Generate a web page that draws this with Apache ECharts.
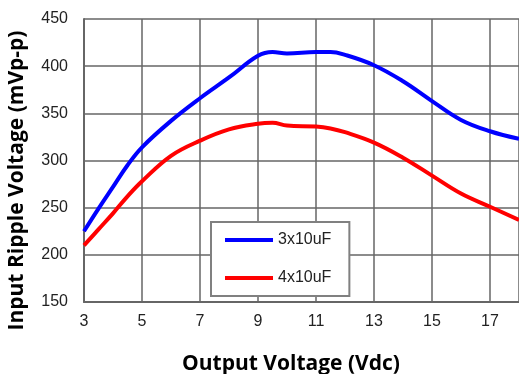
<!DOCTYPE html>
<html>
<head>
<meta charset="utf-8">
<script src="https://cdn.jsdelivr.net/npm/echarts@6/dist/echarts.min.js"></script>
<style>
html,body{margin:0;padding:0;background:#fff;}
#chart{width:519px;height:374px;}
</style>
</head>
<body>
<div id="chart"></div>
<script>
var outputVoltage = [3, 3.5, 4, 4.5, 5, 6, 7, 8, 9, 9.5, 10, 11, 11.5, 12, 13, 14, 15, 16, 17, 18];
var ripple3x10uF = [225, 249, 272, 295, 314, 342, 366, 388, 411, 415, 413.5, 415, 415, 412, 401, 384, 363, 343, 331, 323];
var ripple4x10uF = [210, 227, 244, 262, 278, 305, 321, 333, 339, 340, 337, 336, 334, 330, 319, 303, 284, 265, 251, 237];
var seriesNames = ['3x10uF', '4x10uF'];
var xTitle = 'Output Voltage (Vdc)';
var yTitle = 'Input Ripple Voltage (mVp-p)';

function pairs(xs, ys) { return xs.map(function (x, i) { return [x, ys[i]]; }); }

var chart = echarts.init(document.getElementById('chart'), null, {renderer: 'canvas'});
chart.setOption({
  animation: false,
  backgroundColor: '#fff',
  grid: {left: 84, top: 19, right: 0, bottom: 72, containLabel: false, outerBoundsMode: 'none'},
  legend: {
    orient: 'vertical', left: 211, top: 222,
    data: seriesNames,
    icon: 'rect',
    itemWidth: 48, itemHeight: 4, itemGap: 22,
    padding: [10, 18, 10, 14],
    backgroundColor: '#fff', borderColor: '#808080', borderWidth: 2,
    textStyle: {fontFamily: 'Liberation Sans', fontSize: 16, color: '#222'}
  },
  xAxis: {
    type: 'value', min: 3, max: 18, interval: 2,
    name: xTitle, nameLocation: 'middle', nameGap: 52,
    nameTextStyle: {fontFamily: 'Open Sans', fontWeight: 'bold', fontSize: 21, color: '#000', padding: [0, 21, 0, 0]},
    axisLine: {show: true, lineStyle: {color: '#666', width: 2}},
    axisTick: {show: false},
    axisLabel: {showMaxLabel: false, margin: 12, fontFamily: 'Liberation Sans', fontSize: 16, color: '#222'},
    splitLine: {show: true, lineStyle: {color: '#666', width: 1.5}}
  },
  yAxis: {
    type: 'value', min: 150, max: 450, interval: 50,
    name: yTitle, nameLocation: 'middle', nameGap: 56, nameRotate: 90,
    nameTextStyle: {fontFamily: 'Open Sans', fontWeight: 'bold', fontSize: 21, color: '#000', padding: [0, 40, 0, 0]},
    axisLine: {show: true, lineStyle: {color: '#666', width: 2}},
    axisTick: {show: false},
    axisLabel: {margin: 16, fontFamily: 'Liberation Sans', fontSize: 16, color: '#222'},
    splitLine: {show: true, lineStyle: {color: '#666', width: 1.5}}
  },
  series: [
    {name: seriesNames[0], type: 'line', smooth: 0.4, symbol: 'none',
     lineStyle: {color: '#0000ff', width: 4}, itemStyle: {color: '#0000ff'},
     data: pairs(outputVoltage, ripple3x10uF)},
    {name: seriesNames[1], type: 'line', smooth: 0.4, symbol: 'none',
     lineStyle: {color: '#ff0000', width: 4}, itemStyle: {color: '#ff0000'},
     data: pairs(outputVoltage, ripple4x10uF)}
  ]
});
</script>
</body>
</html>
